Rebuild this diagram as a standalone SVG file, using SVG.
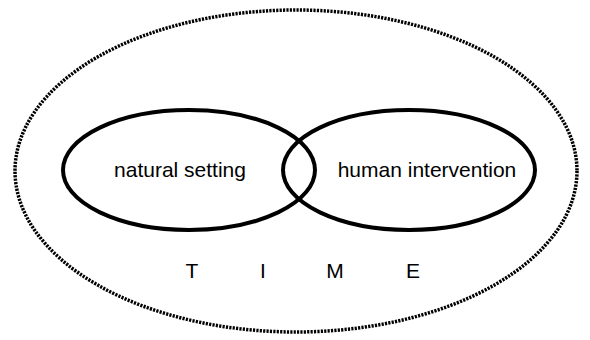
<svg xmlns="http://www.w3.org/2000/svg" width="590" height="340" viewBox="0 0 590 340">
  <style>
    .bg { fill: #ffffff; }
    .outer { fill: none; stroke: #000; stroke-width: 3.5; stroke-dasharray: 2.2 1.2; }
    .set { fill: none; stroke: #000; stroke-width: 4; }
    .lbl { font-family: "Liberation Sans", Arial, sans-serif; font-size: 21px; fill: #000; text-anchor: middle; }
  </style>
  <rect class="bg" x="0" y="0" width="590" height="340"/>
  <g id="time">
    <ellipse class="outer" cx="296" cy="171" rx="281" ry="161"/>
    <text class="lbl" x="192" y="278">T</text>
    <text class="lbl" x="263" y="278">I</text>
    <text class="lbl" x="335" y="278">M</text>
    <text class="lbl" x="413" y="278">E</text>
  </g>
  <g id="natural-setting">
    <ellipse class="set" cx="189" cy="170" rx="126" ry="60"/>
    <text class="lbl" x="180" y="177">natural setting</text>
  </g>
  <g id="human-intervention">
    <ellipse class="set" cx="409" cy="170" rx="126" ry="60"/>
    <text class="lbl" x="427" y="177">human intervention</text>
  </g>
</svg>
